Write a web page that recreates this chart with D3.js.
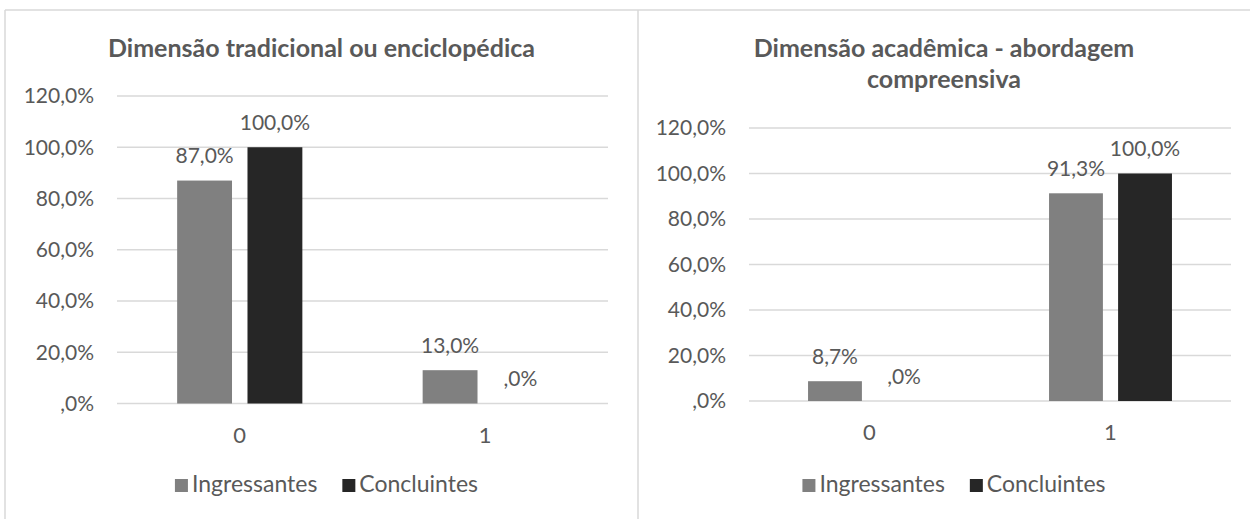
<!DOCTYPE html>
<meta charset="utf-8">
<style>
body { margin: 0; background: #fff; }
svg text { font-family: Lato, "Open Sans", sans-serif; fill: #595959; }
.title { font-weight: bold; }
.grid line { stroke: #d9d9d9; stroke-width: 1.5px; }
.frame { stroke: #d9d9d9; stroke-width: 1.5px; }
</style>
<svg width="1250" height="519"></svg>
<script src="https://d3js.org/d3.v7.min.js"></script>
<script>
// ---- data
var categories = ["0", "1"];
var seriesNames = ["Ingressantes", "Concluintes"];
var seriesColors = ["#808080", "#262626"];
var yTicks = [0, 20, 40, 60, 80, 100, 120];

var tradTitle = ["Dimensão tradicional ou enciclopédica"];
var tradIngressantes = [87.0, 13.0];
var tradConcluintes = [100.0, 0.0];

var acadTitle = ["Dimensão acadêmica - abordagem", "compreensiva"];
var acadIngressantes = [8.7, 91.3];
var acadConcluintes = [0.0, 100.0];

var svg = d3.select("svg");
var loc = d3.formatLocale({decimal: ",", thousands: ".", grouping: [3], currency: ["R$", ""]});
var f1 = loc.format(".1f");
function pct(v) {
  var s = f1(v);
  if (s.indexOf("0,") === 0) s = s.slice(1); // Excel shows ",0%"
  return s + "%";
}

// frame lines
svg.append("line").attr("class", "frame").attr("x1", 5).attr("x2", 1250).attr("y1", 10).attr("y2", 10);
svg.append("line").attr("class", "frame").attr("x1", 5).attr("x2", 5).attr("y1", 10).attr("y2", 519);
svg.append("line").attr("class", "frame").attr("x1", 638).attr("x2", 638).attr("y1", 10).attr("y2", 519);

function drawChart(cfg) {
  var g = svg.append("g");
  var values = [cfg.ing, cfg.con];

  var x = d3.scaleBand().domain(categories).range([cfg.left, cfg.right])
      .paddingInner(0.49).paddingOuter(0.245);
  var xs = d3.scaleBand().domain(seriesNames).range([0, x.bandwidth()]).paddingInner(0.22);
  var y = d3.scaleLinear().domain([0, 120]).range([cfg.bottom, cfg.top]);

  // gridlines
  g.append("g").attr("class", "grid").selectAll("line").data(yTicks).enter().append("line")
    .attr("x1", cfg.left).attr("x2", cfg.right)
    .attr("y1", function(d) { return y(d); }).attr("y2", function(d) { return y(d); });

  // y labels
  g.append("g").selectAll("text").data(yTicks).enter().append("text")
    .attr("x", cfg.left - 23).attr("y", function(d) { return y(d); })
    .attr("dy", "0.35em").attr("text-anchor", "end").style("font-size", "21px")
    .text(pct);

  // bars + labels
  seriesNames.forEach(function(s, si) {
    var sg = g.append("g");
    sg.selectAll("rect").data(values[si]).enter().append("rect")
      .attr("x", function(d, i) { return x(categories[i]) + xs(s); })
      .attr("width", xs.bandwidth())
      .attr("y", function(d) { return y(d); })
      .attr("height", function(d) { return y(0) - y(d); })
      .attr("fill", seriesColors[si]);
    sg.selectAll("text").data(values[si]).enter().append("text")
      .attr("x", function(d, i) { return x(categories[i]) + xs(s) + xs.bandwidth() / 2; })
      .attr("y", function(d) { return y(d) - 17.5; })
      .attr("text-anchor", "middle").style("font-size", "21px")
      .text(pct);
  });

  // category labels
  g.append("g").selectAll("text").data(categories).enter().append("text")
    .attr("x", function(d) { return x(d) + x.bandwidth() / 2; })
    .attr("y", cfg.bottom + 39)
    .attr("text-anchor", "middle").style("font-size", "22px")
    .text(function(d) { return d; });

  // title
  var cx = (cfg.x0 + cfg.x1) / 2;
  g.append("g").selectAll("text").data(cfg.title).enter().append("text")
    .attr("class", "title").attr("x", cx).attr("y", function(d, i) { return 57 + i * 31; })
    .attr("text-anchor", "middle").style("font-size", "25px")
    .text(function(d) { return d; });

  // legend
  var lg = g.append("g");
  var pos = 0;
  seriesNames.forEach(function(s, si) {
    lg.append("rect").attr("x", pos).attr("y", -13).attr("width", 13).attr("height", 13)
      .attr("fill", seriesColors[si]);
    var t = lg.append("text").attr("x", pos + 17).attr("y", 0).style("font-size", "23px").text(s);
    pos += 17 + t.node().getComputedTextLength() + 25;
  });
  var lw = pos - 25;
  lg.attr("transform", "translate(" + (cx - lw / 2 + cfg.legendShift) + ",492)");
}

drawChart({x0: 5, x1: 638, left: 117, right: 608, top: 96, bottom: 403.5, legendShift: 5,
  title: tradTitle, ing: tradIngressantes, con: tradConcluintes});
drawChart({x0: 638, x1: 1250, left: 749, right: 1231, top: 128, bottom: 401, legendShift: 10,
  title: acadTitle, ing: acadIngressantes, con: acadConcluintes});
</script>
